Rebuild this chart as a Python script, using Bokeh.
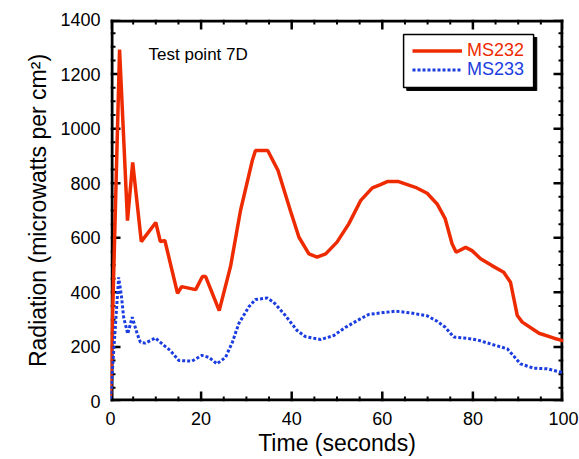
from bokeh.plotting import figure
from bokeh.models import (Range1d, SingleIntervalTicker, Legend, LegendItem, Label)
from bokeh.embed import file_html
from bokeh.resources import INLINE

# ---- data ----
t_ms232 = [0, 2, 3.75, 4.9, 6.8, 10, 11, 12, 14.8, 15.7, 18.8, 20.3, 21, 24, 26.5, 28.7, 31.3, 32,
           34.7, 37, 39.7, 41.6, 43.8, 45.6, 47.5, 50, 52.6, 55.2, 57.8, 59.6, 61.1, 63.6, 67.3,
           69.9, 72.1, 73.9, 75.4, 76.3, 78.4, 79.8, 81.7, 84.2, 86.8, 88.3, 89.8, 90.9, 94.6, 97.9, 100]
v_ms232 = [20, 1290, 663, 876, 586, 656, 586, 590, 396, 421, 410, 458, 458, 333, 495, 700, 883, 920,
           920, 846, 700, 602, 541, 529, 541, 584, 651, 736, 783, 795, 806, 806, 785,
           763, 724, 669, 578, 547, 565, 553, 523, 498, 474, 437, 315, 291, 250, 232, 222]
t_ms233 = [0, 1.8, 2.4, 2.9, 3.8, 4.8, 5.9, 6.6, 7.7, 9.9, 11.4, 13.2, 15.1, 18, 20.2, 21.7, 23.5,
           25.4, 26.9, 28.3, 30.5, 32, 34.6, 36, 38.6, 41.2, 43, 46.4, 49.3, 51.9, 54.5, 57, 60.3,
           62.9, 66.2, 69.9, 72.1, 73.9, 75.8, 78, 80.9, 83.9, 87.6, 88.9, 90.5, 93.4, 96.4, 100]
v_ms233 = [10, 455, 388, 309, 248, 309, 248, 217, 214, 233, 211, 187, 150, 148, 169, 162, 138,
           162, 217, 285, 346, 374, 379, 364, 315, 260, 238, 227, 242, 272, 297, 319, 326,
           331, 325, 314, 294, 272, 236, 233, 226, 211, 193, 169, 138, 122, 120, 105]
x_ticks = [0, 20, 40, 60, 80, 100]
y_ticks = [0, 200, 400, 600, 800, 1000, 1200, 1400]
x_minor = [v for v in range(0, 101, 5) if v % 20]
y_minor = [v for v in range(0, 1401, 50) if v % 200]
series_names = ["MS232", "MS233"]
x_label = "Time (seconds)"
y_label = "Radiation (microwatts per cm\u00b2)"
note = "Test point 7D"

RED = "#EE2B00"
BLUE = "#1B3DE0"
FONT = "Liberation Sans"
X0, X1, Y0, Y1 = 0, 100, 0, 1400

p = figure(width=579, height=459, output_backend="svg", toolbar_location=None,
           x_range=Range1d(X0, X1), y_range=Range1d(Y0, Y1),
           min_border_left=110, min_border_right=16, min_border_top=19, min_border_bottom=58)
p.xgrid.visible = False
p.ygrid.visible = False
p.outline_line_color = None

p.xaxis.ticker = SingleIntervalTicker(interval=20, num_minor_ticks=4)
p.yaxis.ticker = SingleIntervalTicker(interval=200, num_minor_ticks=4)
for ax in (p.xaxis[0], p.yaxis[0]):
    ax.axis_line_color = None
    ax.major_tick_line_color = None
    ax.minor_tick_line_color = None
    ax.major_tick_in = 0
    ax.major_tick_out = 0
    ax.minor_tick_in = 0
    ax.minor_tick_out = 0
    ax.major_label_text_font = FONT
    ax.major_label_text_font_size = "18px"
    ax.major_label_text_color = "black"
    ax.axis_label_text_font = FONT
    ax.axis_label_text_font_size = "23px"
    ax.axis_label_text_font_style = "normal"
    ax.axis_label_text_color = "black"
p.xaxis.axis_label = x_label
p.yaxis.axis_label = y_label
p.xaxis.major_label_standoff = 10
p.yaxis.major_label_standoff = 10
p.xaxis.axis_label_standoff = 2
p.yaxis.axis_label_standoff = 6

px_x = (X1 - X0) / 453.0
px_y = (Y1 - Y0) / 382.0

# legend frame with shadow (decoration)
p.quad(left=[65.4], right=[94.1], top=[1334], bottom=[1140],
       fill_color="black", line_color="black")
p.quad(left=[64.7], right=[93.4], top=[1345], bottom=[1151],
       fill_color="white", line_color="black", line_width=1.5)

# plot frame: four filled bands along the edges (3 px)
p.quad(left=[X0, X1 - 3 * px_x, X0, X0], right=[X0 + 3 * px_x, X1, X1, X1],
       bottom=[Y0, Y0, Y0, Y1 - 3 * px_y], top=[Y1, Y1, Y0 + 3 * px_y, Y1],
       fill_color="black", line_color=None)

# inward ticks on all four sides (10 px major, 5 px minor) as thin bars
for vals, ln, w in ((x_ticks, 10, 2.5), (x_minor, 5, 2)):
    p.vbar(x=vals, bottom=Y0, top=Y0 + ln * px_y, width=w * px_x, fill_color="black", line_color=None)
    p.vbar(x=vals, bottom=Y1 - ln * px_y, top=Y1, width=w * px_x, fill_color="black", line_color=None)
for vals, ln, w in ((y_ticks, 10, 2.5), (y_minor, 5, 2)):
    p.hbar(y=vals, left=X0, right=X0 + ln * px_x, height=w * px_y, fill_color="black", line_color=None)
    p.hbar(y=vals, left=X1 - ln * px_x, right=X1, height=w * px_y, fill_color="black", line_color=None)

r1 = p.line(t_ms232, v_ms232, line_color=RED, line_width=3.5)
r2 = p.line(t_ms233, v_ms233, line_color=BLUE, line_width=3, line_dash="3 2")

for r, name, col, loc in ((r1, series_names[0], RED, (302, 340)), (r2, series_names[1], BLUE, (302, 321))):
    lg = Legend(items=[LegendItem(label=name, renderers=[r])], location=loc,
                border_line_alpha=0, background_fill_alpha=0, padding=0, margin=0,
                glyph_width=50, glyph_height=19, label_height=19, label_standoff=5,
                label_text_color=col, label_text_font=FONT, label_text_font_size="18px")
    p.add_layout(lg, "center")

p.add_layout(Label(x=8.4, y=1271, text=note, text_font=FONT, text_font_size="17px",
                   text_color="black", text_baseline="alphabetic"))

open("out.html", "w").write(file_html(p, INLINE))
